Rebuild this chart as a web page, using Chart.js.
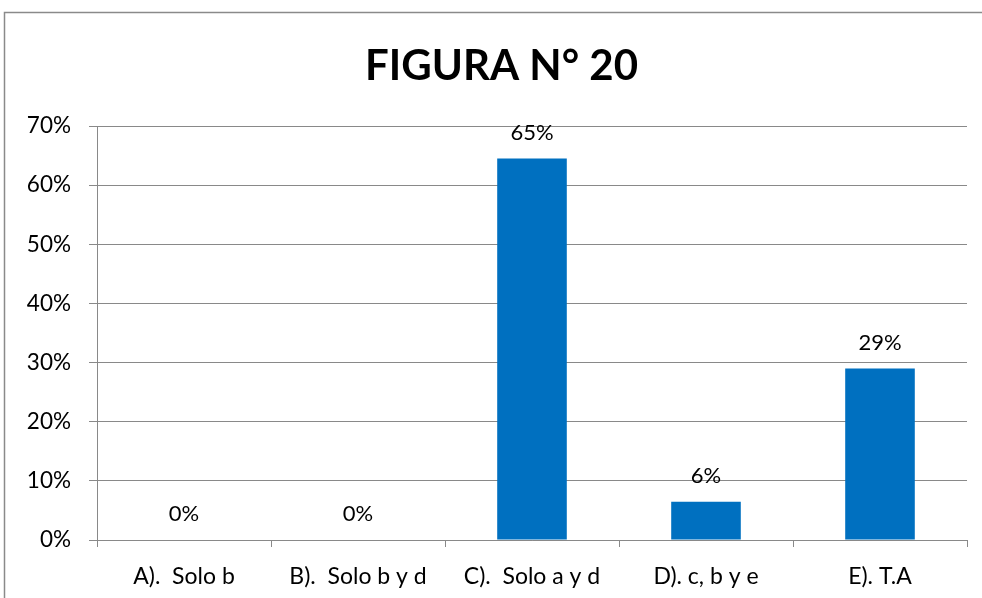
<!DOCTYPE html>
<html>
<head>
<meta charset="utf-8">
<script src="https://cdn.jsdelivr.net/npm/chart.js@4/dist/chart.umd.min.js"></script>
<style>
    html, body { margin: 0; padding: 0; background: #fff; }
    #wrap { width: 982px; height: 598px; position: relative; }
</style>
</head>
<body>
<div id="wrap"><canvas id="chart"></canvas></div>
<script>
    // Chart data
    const categories = ['A).  Solo b', 'B).  Solo b y d', 'C).  Solo a y d', 'D). c, b y e', 'E). T.A'];
    const percentages = [0, 0, 64.5, 6.45, 29.0];
    const yTicks = [0, 10, 20, 30, 40, 50, 60, 70];
    const titleText = 'FIGURA N° 20';

    const FONT = 'Lato, "Open Sans", sans-serif';
    const GRID = '#898989';

    // Outer frame of the chart object
    const framePlugin = {
        id: 'frame',
        afterLayout(chart) {
            // centre the title on the framed object, not on the plot box
            if (chart.titleBlock) {
                chart.titleBlock.left = 36;
            }
        },
        beforeDraw(chart) {
            const ctx = chart.ctx;
            ctx.save();
            ctx.fillStyle = '#fff';
            ctx.fillRect(0, 0, chart.width, chart.height);
            ctx.strokeStyle = '#8a8a8a';
            ctx.lineWidth = 1.5;
            ctx.strokeRect(4.5, 12.5, chart.width + 20, chart.height + 20);
            ctx.restore();
        }
    };

    // Value labels above the bars
    const valueLabels = {
        id: 'valueLabels',
        afterDatasetsDraw(chart) {
            const ctx = chart.ctx;
            const meta = chart.getDatasetMeta(0);
            ctx.save();
            ctx.font = '22px ' + FONT;
            ctx.fillStyle = '#000';
            ctx.textAlign = 'center';
            ctx.textBaseline = 'middle';
            meta.data.forEach((bar, i) => {
                const v = chart.data.datasets[0].data[i];
                ctx.fillText(Math.round(v) + '%', bar.x, bar.y - 26);
            });
            ctx.restore();
        }
    };

    new Chart(document.getElementById('chart'), {
        type: 'bar',
        data: {
            labels: categories,
            datasets: [{
                data: percentages,
                backgroundColor: '#0070C0',
                borderWidth: 0,
                categoryPercentage: 0.4,
                barPercentage: 1
            }]
        },
        options: {
            responsive: true,
            maintainAspectRatio: false,
            animation: false,
            layout: { padding: { left: 0, right: 15, top: 0, bottom: 0 } },
            plugins: {
                legend: { display: false },
                tooltip: { enabled: false },
                title: {
                    display: true,
                    text: titleText,
                    color: '#000',
                    font: { family: FONT, size: 42, weight: 'bold', lineHeight: 1.2 },
                    padding: { top: 41, bottom: 34.6 }
                }
            },
            scales: {
                x: {
                    afterFit(scale) { scale.height = 58; },
                    grid: {
                        offset: true,
                        drawOnChartArea: false,
                        drawTicks: true,
                        tickLength: 7,
                        color: GRID
                    },
                    border: { color: GRID, width: 1 },
                    ticks: {
                        color: '#000',
                        padding: 16,
                        maxRotation: 0,
                        autoSkip: false,
                        font: { family: FONT, size: 23 }
                    }
                },
                y: {
                    min: yTicks[0],
                    max: yTicks[yTicks.length - 1],
                    afterFit(scale) { scale.width = 97; },
                    afterBuildTicks(scale) {
                        scale.ticks = yTicks.map(v => ({ value: v }));
                    },
                    grid: {
                        color: GRID,
                        lineWidth: 1,
                        drawTicks: true,
                        tickLength: 8
                    },
                    border: { color: GRID, width: 1 },
                    ticks: {
                        color: '#000',
                        padding: 18,
                        font: { family: FONT, size: 22.5 },
                        callback: v => v + '%'
                    }
                }
            }
        },
        plugins: [framePlugin, valueLabels]
    });
</script>
</body>
</html>
